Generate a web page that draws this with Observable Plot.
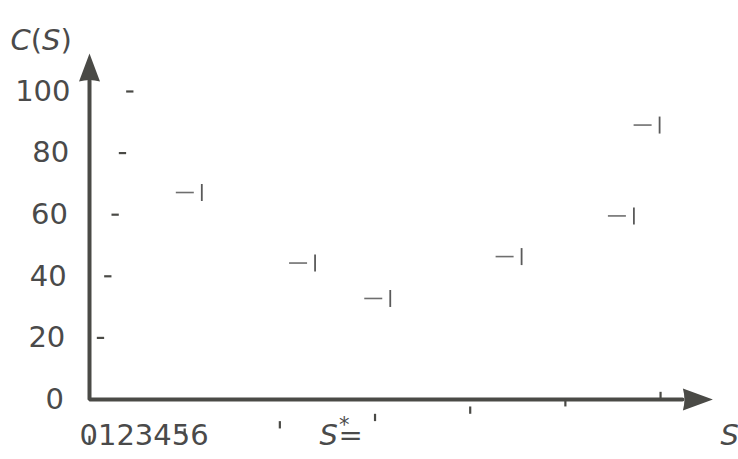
<!DOCTYPE html>
<html><head><meta charset="utf-8">
<script src="https://cdn.jsdelivr.net/npm/d3@7"></script>
<script src="https://cdn.jsdelivr.net/npm/@observablehq/plot@0.6"></script>
<style>body{margin:0;background:#fff} svg{display:block}</style>
</head><body><div id="chart"></div>
<script>
// ---- data ----
const sValues = [1.18, 2.37, 3.16, 4.54, 5.72, 5.99];
const cValues = [67.2, 44.3, 32.8, 46.4, 59.6, 89.1];
const yTicks = [0, 20, 40, 60, 80, 100];
const yTickLabels = ["0", "20", "40", "60", "80", "100"];
const xTicks = [0, 1, 2, 3, 4, 5, 6];
const xTickText = "0123456";
const xAxisLabel = "S";
const yAxisLabel = "C(S)";
const optimumLabel = "S*=";

const points = sValues.map((s, i) => ({S: s, C: cValues[i]}));
const xMax = 6.55, yMax = 112.3;
const axisColor = "#4a4a46";
const textColor = "#4a4a4a";
const font = "DejaVu Sans, sans-serif";

// custom glyphs (pixel space)
const dashSym = {draw(c) { c.moveTo(-26, 0); c.lineTo(-8, 0); }};
const barSym = {draw(c) { c.moveTo(0, -8.5); c.lineTo(0, 8.5); }};
const vTick = {draw(c) { c.moveTo(0, 0); c.lineTo(0, 7.3); }};
const hTick = {draw(c) { c.moveTo(0, 0); c.lineTo(7.3, 0); }};
const upArrow = {draw(c) { c.moveTo(0, 0); c.lineTo(10.5, 28); c.quadraticCurveTo(0, 25, -10.5, 28); c.closePath(); }};
const rightArrow = {draw(c) { c.moveTo(0, 0); c.lineTo(-30, 11); c.quadraticCurveTo(-27, 0, -30, -11); c.closePath(); }};

const marks = [
  // axes
  Plot.line([{S: 0, C: yMax - 8.7}, {S: 0, C: 0}, {S: xMax - 0.32, C: 0}],
    {x: "S", y: "C", stroke: axisColor, strokeWidth: 4, strokeLinejoin: "miter"}),
  Plot.dot([{S: 0, C: yMax}], {x: "S", y: "C", symbol: upArrow, fill: axisColor, stroke: "none"}),
  Plot.dot([{S: xMax, C: 0}], {x: "S", y: "C", symbol: rightArrow, fill: axisColor, stroke: "none"}),
  // y tick marks (drifting)
  ...yTicks.map((v, i) => Plot.dot([v], {x: () => 0, y: d => d, symbol: hTick, stroke: axisColor, strokeWidth: 2.2, fill: "none", dx: 7.33 * i})),
  // x tick marks (drifting)
  ...xTicks.map((t, i) => Plot.dot([t], {x: d => d, y: () => 0, symbol: vTick, stroke: axisColor, strokeWidth: 2.2, fill: "none", dy: 36.3 - 7.33 * i})),
  // y tick labels (slight drift)
  ...yTicks.map((v, i) => Plot.text([v], {x: () => 0, y: d => d, text: () => yTickLabels[i], textAnchor: "end", dx: -19 - (yTicks.length - 1 - i) * 1.3, fontSize: 29, fill: textColor, fontFamily: font})),
  // data markers
  Plot.dot(points, {x: "S", y: "C", symbol: dashSym, stroke: "#6e6e6e", strokeWidth: 1.6, fill: "none"}),
  Plot.dot(points, {x: "S", y: "C", symbol: barSym, stroke: "#5a5a5a", strokeWidth: 1.8, fill: "none"}),
  // labels
  Plot.text([yAxisLabel], {frameAnchor: "top-left", text: d => d, textAnchor: "start", dx: -79, dy: -24.6, fontSize: 29, fill: textColor, fontFamily: font}),
  Plot.text([xTickText], {frameAnchor: "bottom-left", text: d => d, textAnchor: "start", dx: -10, dy: 45, fontSize: 29, fill: textColor, fontFamily: font}),
  Plot.text([optimumLabel], {frameAnchor: "bottom-left", text: d => d, textAnchor: "start", dx: 230, dy: 45, fontSize: 29, fill: textColor, fontFamily: font}),
  Plot.text([xAxisLabel], {frameAnchor: "bottom-right", text: d => d, textAnchor: "start", dx: 7.6, dy: 45, fontSize: 29, fill: textColor, fontFamily: font, fontStyle: "italic"})
];

const chart = Plot.plot({
  width: 738,
  height: 459,
  marginLeft: 89, marginRight: 25.6, marginTop: 53.1, marginBottom: 60,
  x: {domain: [0, xMax], axis: null},
  y: {domain: [0, yMax], axis: null},
  style: {background: "#fff", overflow: "visible"},
  marks
});

// math-style formatting of labels
d3.select(chart).selectAll("text").each(function () {
  const t = this.textContent;
  const sel = d3.select(this);
  if (t === yAxisLabel) {
    sel.text(null);
    sel.append("tspan").attr("font-style", "italic").text("C");
    sel.append("tspan").text("(");
    sel.append("tspan").attr("font-style", "italic").text("S");
    sel.append("tspan").text(")");
  } else if (t === optimumLabel) {
    sel.text(null);
    sel.append("tspan").attr("font-style", "italic").text("S");
    sel.append("tspan").attr("font-size", 21).attr("dy", -13).attr("dx", 1).text("*");
    sel.append("tspan").attr("dy", 13).attr("dx", -11).text("=");
  }
});

document.getElementById("chart").appendChild(chart);
</script>
</body></html>
